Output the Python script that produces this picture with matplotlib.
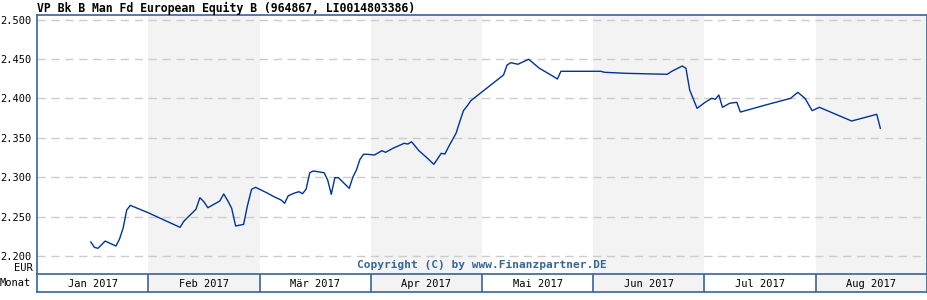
import calendar
import numpy as np
import matplotlib.pyplot as plt
from matplotlib.patches import Rectangle

dates = [
    "2017-01-16", "2017-01-17", "2017-01-18", "2017-01-20", "2017-01-23", "2017-01-24",
    "2017-01-25", "2017-01-26", "2017-01-27", "2017-02-01", "2017-02-09", "2017-02-10",
    "2017-02-13", "2017-02-14", "2017-02-15", "2017-02-16", "2017-02-19", "2017-02-20",
    "2017-02-21", "2017-02-22", "2017-02-23", "2017-02-25", "2017-02-26", "2017-02-27",
    "2017-02-28", "2017-03-03", "2017-03-05", "2017-03-07", "2017-03-08", "2017-03-09",
    "2017-03-11", "2017-03-12", "2017-03-13", "2017-03-14", "2017-03-15", "2017-03-16",
    "2017-03-19", "2017-03-20", "2017-03-21", "2017-03-22", "2017-03-23", "2017-03-26",
    "2017-03-27", "2017-03-28", "2017-03-29", "2017-03-30", "2017-03-31", "2017-04-02",
    "2017-04-04", "2017-04-05", "2017-04-07", "2017-04-10", "2017-04-11", "2017-04-12",
    "2017-04-14", "2017-04-16", "2017-04-18", "2017-04-19", "2017-04-20", "2017-04-21",
    "2017-04-22", "2017-04-24", "2017-04-25", "2017-04-26", "2017-04-27", "2017-04-28",
    "2017-05-07", "2017-05-08", "2017-05-09", "2017-05-11", "2017-05-14", "2017-05-17",
    "2017-05-21", "2017-05-22", "2017-05-23", "2017-06-03", "2017-06-04", "2017-06-10",
    "2017-06-17", "2017-06-21", "2017-06-22", "2017-06-25", "2017-06-26", "2017-06-27",
    "2017-06-29", "2017-07-01", "2017-07-03", "2017-07-04", "2017-07-05", "2017-07-06",
    "2017-07-08", "2017-07-10", "2017-07-11", "2017-07-18", "2017-07-25", "2017-07-27",
    "2017-07-29", "2017-07-31", "2017-08-02", "2017-08-11", "2017-08-18", "2017-08-19",
]
values = [
    2.2178, 2.2110, 2.2098, 2.2190, 2.2127, 2.2216,
    2.2355, 2.2584, 2.2643, 2.2549, 2.2364, 2.2444,
    2.2593, 2.2740, 2.2689, 2.2613, 2.2698, 2.2787,
    2.2702, 2.2605, 2.2381, 2.2402, 2.2647, 2.2846,
    2.2872, 2.2803, 2.2753, 2.2711, 2.2669, 2.2765,
    2.2803, 2.2816, 2.2791, 2.2850, 2.3057, 2.3079,
    2.3057, 2.2964, 2.2783, 2.2994, 2.2994, 2.2859,
    2.2999, 2.3091, 2.3227, 2.3291, 2.3291, 2.3282,
    2.3336, 2.3316, 2.3367, 2.3430, 2.3421, 2.3450,
    2.3336, 2.3253, 2.3164, 2.3231, 2.3303, 2.3294,
    2.3387, 2.3557, 2.3704, 2.3844, 2.3904, 2.3971,
    2.4297, 2.4424, 2.4453, 2.4433, 2.4496, 2.4382,
    2.4275, 2.4246, 2.4344, 2.4344, 2.4331, 2.4318,
    2.4310, 2.4306, 2.4339, 2.4411, 2.4382, 2.4107,
    2.3874, 2.3945, 2.4001, 2.3989, 2.4043, 2.3887,
    2.3938, 2.3950, 2.3827, 2.3916, 2.4001, 2.4077,
    2.4001, 2.3844, 2.3887, 2.3713, 2.3798, 2.3620,
]
months = ["Jan 2017", "Feb 2017", "Mär 2017", "Apr 2017",
          "Mai 2017", "Jun 2017", "Jul 2017", "Aug 2017"]
yticks = [2.20, 2.25, 2.30, 2.35, 2.40, 2.45, 2.50]
title = "VP Bk B Man Fd European Equity B (964867, LI0014803386)"

FRAME = "#336699"
LINE = "#003399"
SHADE = "#f3f3f3"
MONO = "DejaVu Sans Mono"


def month_pos(d):
    # jeder Monat hat im Chart die gleiche Breite
    y, m, day = (int(p) for p in d.split("-"))
    ndays = calendar.monthrange(y, m)[1]
    return (m - 1) + (day - 1) / ndays


x = np.array([month_pos(d) for d in dates])

W, H = 928, 300
fig = plt.figure(figsize=(W / 100, H / 100), dpi=100)
ax = fig.add_axes([37 / W, (H - 274) / H, 890 / W, 259 / H])
band = fig.add_axes([37 / W, (H - 292) / H, 890 / W, 18 / H])

ax.set_xlim(0, len(months))
ax.set_ylim(2.1772, 2.5058)
for i in range(len(months)):
    if i % 2 == 1:
        ax.axvspan(i, i + 1, color=SHADE, lw=0, zorder=0)
        band.add_patch(Rectangle((i, 0), 1, 1, color=SHADE, lw=0, zorder=0))

for v in yticks:
    ax.axhline(v, color="#cccccc", lw=1, ls=(0, (6, 4)), zorder=1)

ax.plot(x, values, color=LINE, lw=1.0, zorder=3)

ax.set_xticks([])
ax.set_yticks(yticks)
ax.set_yticklabels([f"{v:.3f}" for v in yticks], fontfamily=MONO, fontsize=7.5)
ax.tick_params(axis="y", length=0, pad=4)
for s in ["left", "top", "right"]:
    ax.spines[s].set_color(FRAME)
    ax.spines[s].set_linewidth(1.2)
ax.spines["bottom"].set_visible(False)

ax.text(0.5, 0.015, "Copyright (C) by www.Finanzpartner.DE", transform=ax.transAxes,
        ha="center", va="bottom", fontfamily=MONO, fontweight="bold",
        fontsize=8, color=FRAME, zorder=4)

band.set_xlim(0, len(months))
band.set_ylim(0, 1)
band.set_xticks([])
band.set_yticks([])
for s in band.spines.values():
    s.set_color(FRAME)
    s.set_linewidth(1.2)
for i, m in enumerate(months):
    band.text(i + 0.5, 0.45, m, ha="center", va="center",
              fontfamily=MONO, fontsize=7.5, color="black")
    if i > 0:
        band.axvline(i, color=FRAME, lw=1.2)

fig.text(33 / W, 1 - 268 / H, "EUR", ha="right", va="center", fontfamily=MONO, fontsize=7.5)
fig.text(31 / W, 1 - 283 / H, "Monat", ha="right", va="center", fontfamily=MONO, fontsize=7.5)
fig.text(37 / W, 1 - 8 / H, title, ha="left", va="center",
         fontfamily=MONO, fontweight="bold", fontsize=8.3)

fig.savefig("out.png", dpi=100)
